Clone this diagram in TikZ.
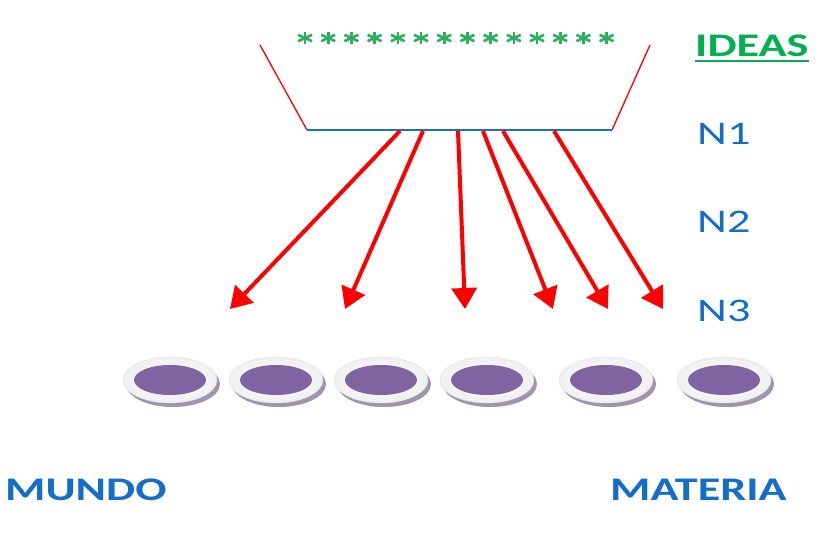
\documentclass[tikz,border=0pt]{standalone}
\usepackage{fontspec}
\usetikzlibrary{arrows.meta}
\newfontfamily\labfont[FakeStretch=1.4]{Carlito}
\definecolor{lblue}{RGB}{20,110,200}
\definecolor{lgreen}{RGB}{0,176,80}
\definecolor{sgreen}{RGB}{45,175,95}
\definecolor{lpurple}{RGB}{128,100,162}
\definecolor{lred}{RGB}{255,0,0}
\definecolor{bline}{RGB}{30,110,200}
\begin{document}
\begin{tikzpicture}[x=1pt,y=-1pt,
  lab/.style={font=\labfont\fontsize{33}{36}\selectfont, text=lblue, inner sep=0pt},
  starline/.style={draw=sgreen, line width=2.6pt},
  ray/.style={draw=lred, line width=4pt, -{Triangle[width=25pt,length=21pt]}},
  side/.style={draw=lred, line width=1.3pt},
  disc/.pic={
    \fill[lpurple!55!gray, opacity=0.75] (3,4) ellipse [x radius=47, y radius=23];
    \shade[inner color=white, outer color=gray!12, draw=gray!25, line width=0.4pt] (0,0) ellipse [x radius=47, y radius=23];
    \fill[lpurple] (0,0) ellipse [x radius=36, y radius=15];
  },
  astr/.pic={
    \draw[starline] (0,-6) -- (0,6);
    \draw[starline] (-7,-3.2) -- (7,3.2);
    \draw[starline] (-7,3.2) -- (7,-3.2);
  }]
\useasboundingbox (0,0) rectangle (827,533);
% funnel
\coordinate (bl) at (307,130);
\coordinate (br) at (612,130);
\coordinate (tl) at (260,45);
\coordinate (tr) at (650,45);
\draw[side] (tl) -- (bl);
\draw[side] (tr) -- (br);
\draw[draw=bline, line width=2.5pt] (bl) -- (br);
% stars
\foreach \i in {0,...,13} {
  \pic at ({305+\i*23.2},38) {astr};
}
% labels
\node[lab, font=\labfont\bfseries\fontsize{33}{36}\selectfont, text=lgreen, anchor=west] (ideas) at (695,46) {IDEAS};
\draw[lgreen, line width=2pt] ([yshift=-4pt]ideas.south west) -- ([yshift=-4pt]ideas.south east);
\node[lab, anchor=west] (n1) at (697,134) {N1};
\node[lab, anchor=west] (n2) at (697,222) {N2};
\node[lab, anchor=west] (n3) at (697,311) {N3};
\node[lab, font=\labfont\bfseries\fontsize{33}{36}\selectfont, anchor=west] (mundo) at (5,490) {MUNDO};
\node[lab, font=\labfont\bfseries\fontsize{33}{36}\selectfont, anchor=west] (materia) at (610,490) {MATERIA};
% discs
\foreach \x [count=\i] in {170,276,381,487,606,724} {
  \pic at (\x,380) {disc};
}
% arrows
\foreach \sx/\ex [count=\i] in {400/230, 423/345, 458/465, 483/553, 503/608, 554/663} {
  \coordinate (s\i) at (\sx,131);
  \coordinate (e\i) at (\ex,309);
  \draw[ray] (s\i) -- (e\i);
}
\end{tikzpicture}
\end{document}
